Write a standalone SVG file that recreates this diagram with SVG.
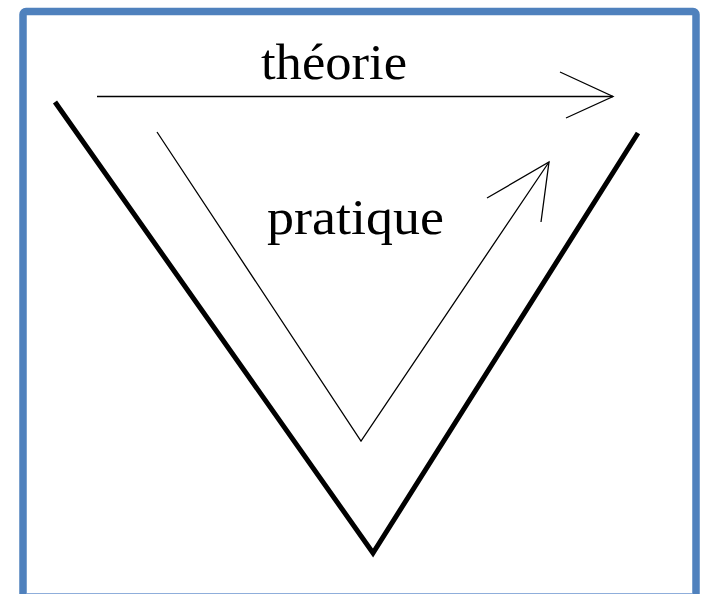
<svg xmlns="http://www.w3.org/2000/svg" width="701" height="594" viewBox="0 0 701 594">
<style>
.lbl{font-family:"Liberation Serif","DejaVu Serif",serif;font-size:50px;fill:#000}
.thin{fill:none;stroke:#000;stroke-width:1.3}
.thick{fill:none;stroke:#000;stroke-width:5}
</style>
<rect width="701" height="594" fill="#fff"/>
<rect id="frame" x="23" y="11.5" width="673" height="600" rx="3" fill="none" stroke="#4F81BD" stroke-width="7.5"/>
<line x1="27" y1="593.5" x2="692" y2="593.5" stroke="#8FAEDB" stroke-width="1"/>
<g id="connectors">
<polyline class="thick" points="55,102 373,553 638,133"/>
<polyline class="thin" points="157,132 361,441 549,162"/>
<polyline class="thin" points="487,198 549,162 541,222"/>
<line class="thin" x1="97" y1="96.5" x2="613" y2="96.5" stroke-width="1.5"/>
<polyline class="thin" points="560,72 613,96.5 566,118"/>
</g>
<g id="theorie"><text class="lbl" x="261" y="79" textLength="146" lengthAdjust="spacingAndGlyphs">théorie</text></g>
<g id="pratique"><text class="lbl" x="267" y="234" textLength="177" lengthAdjust="spacingAndGlyphs">pratique</text></g>
</svg>
